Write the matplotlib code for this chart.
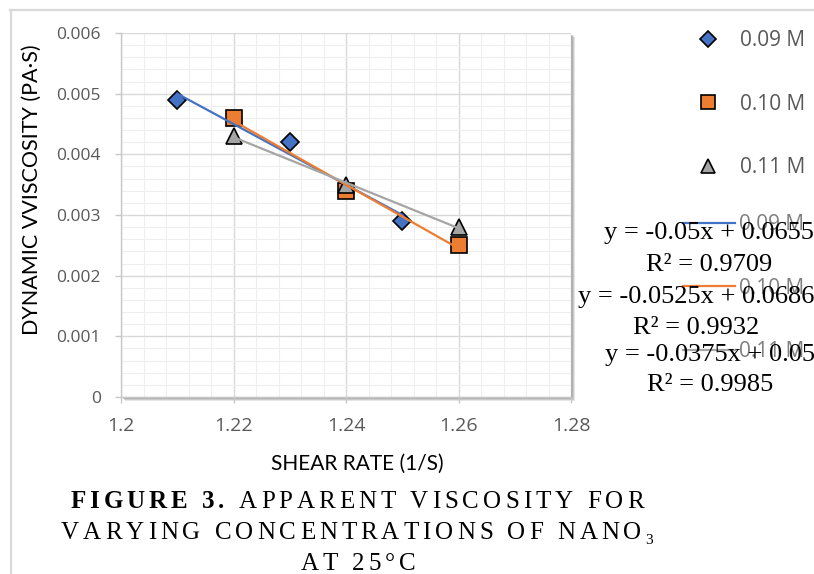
import numpy as np
import matplotlib
matplotlib.use("Agg")
import matplotlib.pyplot as plt
from matplotlib.patches import Rectangle
from matplotlib.ticker import MultipleLocator, FuncFormatter

# data
shear_09 = [1.21, 1.23, 1.25]
visc_09 = [0.0049, 0.0042, 0.0029]
shear_10 = [1.22, 1.24, 1.26]
visc_10 = [0.0046, 0.0034, 0.0025]
shear_11 = [1.22, 1.24, 1.26]
visc_11 = [0.0043, 0.0035, 0.0028]
conc_labels = ["0.09 M", "0.10 M", "0.11 M"]

W, H, DPI = 814, 574, 100
colors = ["#4472C4", "#ED7D31", "#A5A5A5"]
markers = ["D", "s", "^"]
msizes = [9, 11, 11]


def fx(px):
    return px / W


def fy(py):
    return 1 - py / H


def num(v):
    s = f"{v:.4f}".rstrip("0").rstrip(".")
    return s


fig = plt.figure(figsize=(W / DPI, H / DPI), dpi=DPI)
ax = fig.add_axes([fx(121), fy(397), (571 - 121) / W, (397 - 33) / H])

# soft shadow behind plot area
for off, a in [(4, 0.25), (3, 0.35), (2, 0.5)]:
    fig.patches.append(Rectangle((fx(121 + off), fy(397 + off)), (571 - 121) / W, (397 - 33) / H,
                                 transform=fig.transFigure, facecolor="#9a9a9a", alpha=a,
                                 edgecolor="none", zorder=-2))

# outer frame lines (page border)
fig.add_artist(plt.Line2D([fx(10), 1], [fy(10), fy(10)], color="#d9d9d9", lw=1.6))
fig.add_artist(plt.Line2D([fx(11), fx(11)], [fy(10), 0], color="#d9d9d9", lw=1.6))

series = [(shear_09, visc_09), (shear_10, visc_10), (shear_11, visc_11)]
pts = []
fits = []
for (xs, ys), c, m, ms, lab in zip(series, colors, markers, msizes, conc_labels):
    p, = ax.plot(xs, ys, ls="none", marker=m, ms=ms, mfc=c, mec="black", mew=1.2,
                 label=lab, zorder=3)
    pts.append(p)
for (xs, ys), c, lab in zip(series, colors, conc_labels):
    xs = np.array(xs)
    ys = np.array(ys)
    k, b = np.polyfit(xs, ys, 1)
    pred = k * xs + b
    r2 = 1 - np.sum((ys - pred) ** 2) / np.sum((ys - ys.mean()) ** 2)
    xl = np.array([xs.min(), xs.max()])
    l, = ax.plot(xl, k * xl + b, color=c, lw=1.6, label=lab, zorder=4)
    fits.append((l, k, b, r2))

ax.set_xlim(1.2, 1.28)
ax.set_ylim(0, 0.006)
ax.xaxis.set_major_locator(MultipleLocator(0.02))
ax.xaxis.set_minor_locator(MultipleLocator(0.004))
ax.yaxis.set_major_locator(MultipleLocator(0.001))
ax.yaxis.set_minor_locator(MultipleLocator(0.0002))
ax.yaxis.set_major_formatter(FuncFormatter(lambda v, p: "0" if abs(v) < 1e-9 else f"{v:.3f}"))
ax.xaxis.set_major_formatter(FuncFormatter(lambda v, p: f"{v:g}"))
ax.grid(which="major", color="#d9d9d9", lw=1.0)
ax.grid(which="minor", color="#eeeeee", lw=0.8)
ax.set_axisbelow(True)
for s in ["top", "right"]:
    ax.spines[s].set_visible(False)
for s in ["left", "bottom"]:
    ax.spines[s].set_color("#c8c8c8")
    ax.spines[s].set_linewidth(1.0)
ax.tick_params(which="major", length=4.5, color="#c8c8c8", width=1.0)
ax.tick_params(which="minor", length=0)
ax.tick_params(axis="y", labelsize=12.5, labelcolor="#595959", pad=10)
ax.tick_params(axis="x", labelsize=14, labelcolor="#595959", pad=10)
for t in ax.get_xticklabels() + ax.get_yticklabels():
    t.set_family("Open Sans")

fig.text(fx(357), fy(464), "SHEAR RATE (1/S)", ha="center", va="center",
         fontsize=15, family="Lato", color="black")
fig.text(fx(32), fy(190), "DYNAMIC VVISCOSITY (PA\u00b7S)", ha="center", va="center",
         rotation=90, fontsize=15.5, family="Lato", color="black")

# marker legend
fig.legend(handles=pts, loc="upper left", bbox_to_anchor=(fx(688), fy(30)),
           frameon=False, borderpad=0, borderaxespad=0, handlelength=1.9,
           handletextpad=0.6, labelspacing=2.05, markerscale=0.9,
           prop={"family": "Open Sans", "size": 15}, labelcolor="#595959")
# trendline legend
fig.legend(handles=[f[0] for f in fits], loc="upper left", bbox_to_anchor=(fx(683), fy(214)),
           frameon=False, borderpad=0, borderaxespad=0, handlelength=2.5,
           handletextpad=0.2, labelspacing=2.05,
           prop={"family": "Open Sans", "size": 15}, labelcolor="#7f7f7f")

# trendline equations
eq_pos = [(709, 233, 265), (696, 297, 328), (710, 355, 385)]
for (l, k, b, r2), (cx, y1, y2) in zip(fits, eq_pos):
    fig.text(fx(cx), fy(y1), f"y = {num(k)}x + {num(b)}", ha="center", va="center",
             fontsize=19, family="Liberation Serif", color="black", zorder=10)
    fig.text(fx(cx), fy(y2), f"R\u00b2 = {r2:.4f}", ha="center", va="center",
             fontsize=19, family="Liberation Serif", color="black", zorder=10)

# caption with letter spacing
renderer = fig.canvas.get_renderer()


def spaced(runs, cx, base, gap=4):
    arts = []
    x = 0
    for s, size, weight, dy in runs:
        for ch in s:
            if ch == " ":
                x += 0.25 * size * DPI / 72 + gap
                continue
            t = fig.text(0, 0, ch, fontsize=size, fontweight=weight, va="baseline",
                         ha="left", family="Liberation Serif", color="black")
            w = t.get_window_extent(renderer).width
            arts.append((t, x, dy))
            x += w + gap
    x0 = cx - (x - gap) / 2
    for t, xo, dy in arts:
        t.set_position((fx(x0 + xo), fy(base + dy)))


cap = 18
spaced([("FIGURE 3.", cap, "bold", 0), (" APPARENT VISCOSITY FOR", cap, "normal", 0)], 357, 508)
spaced([("VARYING CONCENTRATIONS OF NANO", cap, "normal", 0), ("3", 11, "normal", 5)], 357, 539)
spaced([("AT 25\u00b0C", cap, "normal", 0)], 358, 570)

fig.savefig("out.png", dpi=DPI)
